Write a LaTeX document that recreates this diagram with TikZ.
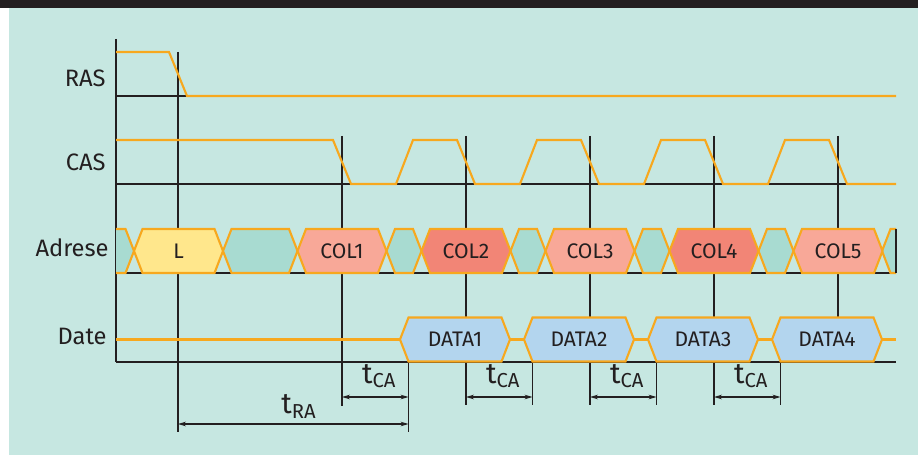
\documentclass[tikz,border=0pt]{standalone}
\usepackage{fontspec}
\setmainfont{Fira Sans}
\usetikzlibrary{arrows.meta}
\definecolor{tdbar}{RGB}{35,31,32}
\definecolor{tdpanel}{RGB}{198,231,225}
\definecolor{tdorange}{RGB}{247,168,30}
\definecolor{tdink}{RGB}{35,31,32}
\definecolor{tdteal}{RGB}{168,219,209}
\definecolor{tdyellow}{RGB}{255,231,140}
\definecolor{tdsalmon}{RGB}{248,168,152}
\definecolor{tdred}{RGB}{242,133,118}
\definecolor{tdblue}{RGB}{179,213,238}
\tikzset{
  refline/.style={line width=0.6pt, color=tdink},
  signal/.style={line width=1.2pt, color=tdorange, line join=miter},
  busbox/.style={line width=1.2pt, draw=tdorange, line join=miter},
  sigtext/.style={font=\fontsize{13.5}{15}\selectfont, text=tdink,
    anchor=base east, inner sep=0pt},
  boxtext/.style={font=\fontsize{12}{14}\selectfont, text=tdink, inner sep=0pt},
  dimtext/.style={font=\fontsize{16.5}{18}\selectfont, text=tdink, inner sep=0pt},
  dimarrow/.style={{Stealth[length=4.5pt,width=2.6pt]}-{Stealth[length=4.5pt,width=2.6pt]},
    line width=0.6pt, color=tdink}
}
% bus segment: mid y, left tip, right tip, fill
\newcommand{\hexbus}[4]{%
  \draw[busbox, fill=#4] (#2,#1) -- (#2+8.5,#1-22) -- (#3-8.5,#1-22) -- (#3,#1)
    -- (#3-8.5,#1+22) -- (#2+8.5,#1+22) -- cycle;}
\newcommand{\tsub}[1]{\raisebox{-2.5pt}{\fontsize{11.5}{13}\selectfont #1}}

\begin{document}
\begin{tikzpicture}[x=0.02cm, y=-0.02cm]
  \useasboundingbox (0,0) rectangle (918,455);
  \fill[white] (0,0) rectangle (918,455);
  \fill[tdbar] (0,0) rectangle (918,8);
  \fill[tdpanel] (9,8) rectangle (918,455);

  % signal names
  \node[sigtext] (ras) at (106,87) {RAS};
  \node[sigtext] (cas) at (106,171) {CAS};
  \node[sigtext] (adrese) at (109,257) {Adrese};
  \node[sigtext] (date) at (107,344) {Date};

  % axes and base lines
  \draw[refline] (116,39) -- (116,362);
  \foreach \y in {96,184,273,362}
    \draw[refline] (116,\y) -- (896,\y);
  \draw[refline] (896,229) -- (896,273);
  \draw[refline] (178,52) -- (178,432);
  \draw[refline] (342,136) -- (342,406);
  \foreach \v in {466,590,714}
    \draw[refline] (\v,136) -- (\v,405);
  \draw[refline] (838,136) -- (838,317);
  \foreach \v in {466,590,714}
    \draw[refline] (\v+66.5,362) -- (\v+66.5,405);
  \draw[refline] (408.5,362) -- (408.5,432);

  % RAS and CAS
  \draw[signal] (116,52) -- (169,52) -- (187,96) -- (896,96);
  \draw[signal] (116,140) -- (333,140)
    foreach \v in {342,466,590,714} { -- (\v+9,184) -- (\v+54,184) -- (\v+71,140) -- (\v+115,140) }
    -- (847,184) -- (896,184);

  % Adrese
  \fill[tdteal] (116,229) -- (125.5,229) -- (134,251) -- (125.5,273) -- (116,273) -- cycle;
  \draw[signal] (116,229) -- (125.5,229) -- (134,251) -- (125.5,273) -- (116,273);
  \fill[tdteal] (896,229) -- (890.5,229) -- (882,251) -- (890.5,273) -- (896,273) -- cycle;
  \draw[signal] (896,229) -- (890.5,229) -- (882,251) -- (890.5,273) -- (896,273);
  \draw[refline] (896,229) -- (896,273);
  \hexbus{251}{134}{223}{tdyellow}
  \node[boxtext] (addrl) at (178.5,251) {L};
  \foreach \l/\r in {223/297.5,386.5/421.5,510.5/545.5,634.5/669.5,758.5/793.5}
    \hexbus{251}{\l}{\r}{tdteal};
  \foreach \v/\c [count=\i] in {342/tdsalmon,466/tdred,590/tdsalmon,714/tdred,838/tdsalmon} {
    \hexbus{251}{\v-44.5}{\v+44.5}{\c}
    \node[boxtext] (col\i) at (\v,251) {COL\i};
  }

  % Date
  \draw[signal] (116,339.5) -- (896,339.5);
  \foreach \v [count=\i] in {342,466,590,714} {
    \hexbus{339.5}{\v+58}{\v+168}{tdblue}
    \node[boxtext] (data\i) at (\v+113,339.5) {DATA\i};
  }

  % timings
  \foreach \v [count=\i] in {342,466,590,714} {
    \coordinate (cas\i) at (\v,397);
    \coordinate (dat\i) at (\v+66.5,397);
    \draw[dimarrow] (cas\i) -- (dat\i)
      node[dimtext, midway, above=5pt, xshift=2pt] (tca\i) {t\tsub{CA}};
  }
  \coordinate (rasmark) at (178,424);
  \coordinate (datmark) at (408.5,424);
  \draw[dimarrow] (rasmark) -- (datmark)
    node[dimtext, midway, above=3pt, xshift=3pt] (tra) {t\tsub{RA}};
\end{tikzpicture}
\end{document}
